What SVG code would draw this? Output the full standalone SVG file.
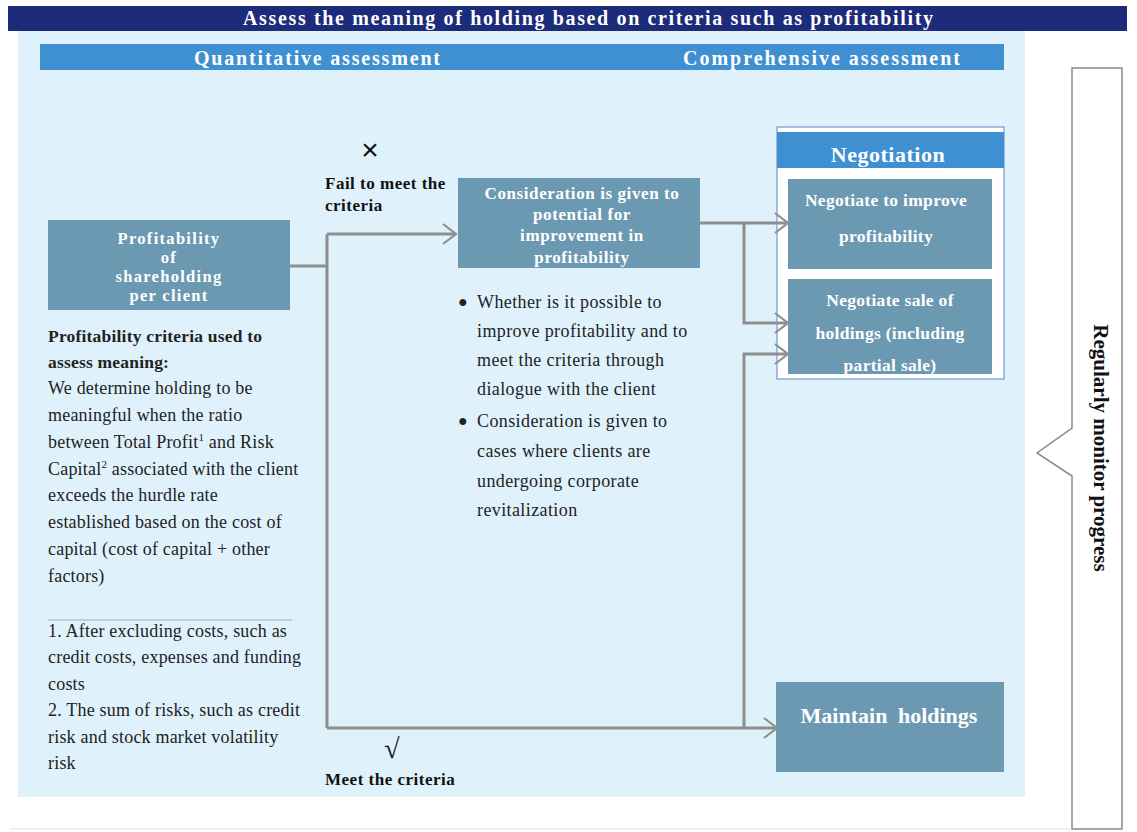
<svg xmlns="http://www.w3.org/2000/svg" width="1137" height="832" viewBox="0 0 1137 832">
<style>
.serif{font-family:"Liberation Serif","Times New Roman",serif}
.hdr{font-family:"Liberation Serif",serif;font-weight:bold;fill:#ffffff}
.box{fill:#6b99b2}
.bt{font-family:"Liberation Serif",serif;font-weight:bold;fill:#ffffff;text-anchor:middle}
.body{font-family:"Liberation Serif",serif;font-size:18px;letter-spacing:0.2px;fill:#222222}
.lbl{font-family:"Liberation Serif",serif;font-size:17px;font-weight:bold;letter-spacing:0.5px;fill:#111111}
.conn{fill:none;stroke:#8e8e8e;stroke-width:3}
.head{fill:none;stroke:#8e8e8e;stroke-width:2.2}
</style>
<rect x="0" y="0" width="1137" height="832" fill="#ffffff"/>
<g id="title">
<rect x="8" y="6" width="1119" height="25" fill="#1c2b7a"/>
<text class="hdr" x="243" y="25" font-size="20" textLength="690" lengthAdjust="spacing">Assess the meaning  of holding  based on criteria  such as profitability</text>
</g>
<g id="panel">
<rect x="18" y="31" width="1007" height="766" fill="#dff2fc"/>
</g>
<g id="subheader">
<rect x="40" y="44" width="964" height="26" fill="#3f8fd3"/>
<text class="hdr" x="194" y="65" font-size="20" textLength="246" lengthAdjust="spacing">Quantitative assessment</text>
<text class="hdr" x="683" y="65" font-size="20" textLength="277" lengthAdjust="spacing">Comprehensive assessment</text>
</g>
<g id="profitability">
<rect class="box" x="48" y="220" width="242" height="90"/>
<text class="bt" font-size="16.5" letter-spacing="1.3"><tspan x="169" y="244">Profitability</tspan><tspan x="169" y="263">of</tspan><tspan x="169" y="282">shareholding</tspan><tspan x="169" y="301">per client</tspan></text>
</g>
<g id="criteria-text">
<text class="body" font-weight="bold" style="font-size:17.5px"><tspan x="48" y="342">Profitability criteria used to</tspan><tspan x="48" y="368">assess meaning:</tspan></text>
<text class="body"><tspan x="48" y="394">We determine holding to be</tspan><tspan x="48" y="421">meaningful when the ratio</tspan><tspan x="48" y="448">between Total Profit<tspan font-size="11" dy="-7">1</tspan><tspan dy="7"> and Risk</tspan></tspan><tspan x="48" y="475">Capital<tspan font-size="11" dy="-7">2</tspan><tspan dy="7"> associated with the client</tspan></tspan><tspan x="48" y="501">exceeds the hurdle rate</tspan><tspan x="48" y="528">established based on the cost of</tspan><tspan x="48" y="555">capital (cost of capital + other</tspan><tspan x="48" y="582">factors)</tspan></text>
<line x1="48" y1="620" x2="292" y2="620" stroke="#aaaaaa" stroke-width="1"/>
<text class="body"><tspan x="48" y="637">1. After excluding costs, such as</tspan><tspan x="48" y="663">credit costs, expenses and funding</tspan><tspan x="48" y="690">costs</tspan><tspan x="48" y="716">2. The sum of risks, such as credit</tspan><tspan x="48" y="743">risk and stock market volatility</tspan><tspan x="48" y="769">risk</tspan></text>
</g>
<g id="consideration">
<rect class="box" x="458" y="178" width="242" height="90"/>
<text class="bt" font-size="17" letter-spacing="0.6"><tspan x="582" y="199">Consideration is given to</tspan><tspan x="582" y="220">potential for</tspan><tspan x="582" y="241">improvement in</tspan><tspan x="582" y="263">profitability</tspan></text>
</g>
<g id="bullets">
<text class="body" style="letter-spacing:0.4px"><tspan x="458" y="307" font-size="16">●</tspan><tspan x="477" y="308">Whether is it possible to</tspan><tspan x="477" y="337">improve profitability and to</tspan><tspan x="477" y="366">meet the criteria through</tspan><tspan x="477" y="395">dialogue with the client</tspan><tspan x="458" y="426" font-size="16">●</tspan><tspan x="477" y="427">Consideration is given to</tspan><tspan x="477" y="457">cases where clients are</tspan><tspan x="477" y="487">undergoing corporate</tspan><tspan x="477" y="516">revitalization</tspan></text>
</g>
<g id="negotiation">
<rect x="777" y="127" width="227" height="252" fill="#ffffff" stroke="#5a86c0" stroke-width="1"/>
<rect x="777" y="132" width="227" height="36" fill="#3f8fd3"/>
<text class="bt" x="888" y="162" font-size="22" letter-spacing="0.5">Negotiation</text>
</g>
<g id="negotiate-improve">
<rect class="box" x="788" y="179" width="204" height="90"/>
<text class="bt" font-size="17.5" letter-spacing="0.3"><tspan x="886" y="206">Negotiate to improve</tspan><tspan x="886" y="242">profitability</tspan></text>
</g>
<g id="negotiate-sale">
<rect class="box" x="788" y="279" width="204" height="95"/>
<text class="bt" font-size="17.5" letter-spacing="0.3"><tspan x="890" y="306">Negotiate sale of</tspan><tspan x="890" y="339">holdings (including</tspan><tspan x="890" y="371">partial sale)</tspan></text>
</g>
<g id="maintain">
<rect class="box" x="776" y="682" width="228" height="90"/>
<text class="bt" x="889" y="723" font-size="22" word-spacing="5">Maintain holdings</text>
</g>
<g id="monitor">
<path d="M1072,68 H1122 V829 H1072 V476 L1037,453 L1072,428 Z" fill="#ffffff" stroke="#8a8a8a" stroke-width="1.5"/>
<text transform="translate(1094,448) rotate(90)" font-family="Liberation Serif, serif" font-weight="bold" font-size="21" fill="#111111" text-anchor="middle">Regularly monitor progress</text>
</g>
<g id="connectors">
<path class="conn" d="M290,266 H327"/>
<path class="conn" d="M327,234 V728"/>
<path class="conn" d="M327,234 H455"/>
<path class="conn" d="M327,728 H775"/>
<path class="conn" d="M700,223 H786"/>
<path class="conn" d="M744,223 V323 H786"/>
<path class="conn" d="M744,728 V354 H786"/>
<path class="head" d="M443,224 L456,234 L443,244"/>
<path class="head" d="M775,213 L788,223 L775,233"/>
<path class="head" d="M775,313 L788,323 L775,333"/>
<path class="head" d="M775,344 L788,354 L775,364"/>
<path class="head" d="M764,718 L777,728 L764,738"/>
</g>
<g id="labels">
<text x="370" y="160" font-family="Liberation Sans, sans-serif" font-size="30" text-anchor="middle" fill="#111111">×</text>
<text class="lbl"><tspan x="325" y="189">Fail to meet the</tspan><tspan x="325" y="211">criteria</tspan></text>
<text class="serif" x="392" y="758" font-size="28" text-anchor="middle" fill="#111111">√</text>
<text class="lbl" x="325" y="785">Meet the criteria</text>
</g>
<line x1="10" y1="829" x2="1070" y2="829" stroke="#e2e2e2" stroke-width="1"/>
</svg>
